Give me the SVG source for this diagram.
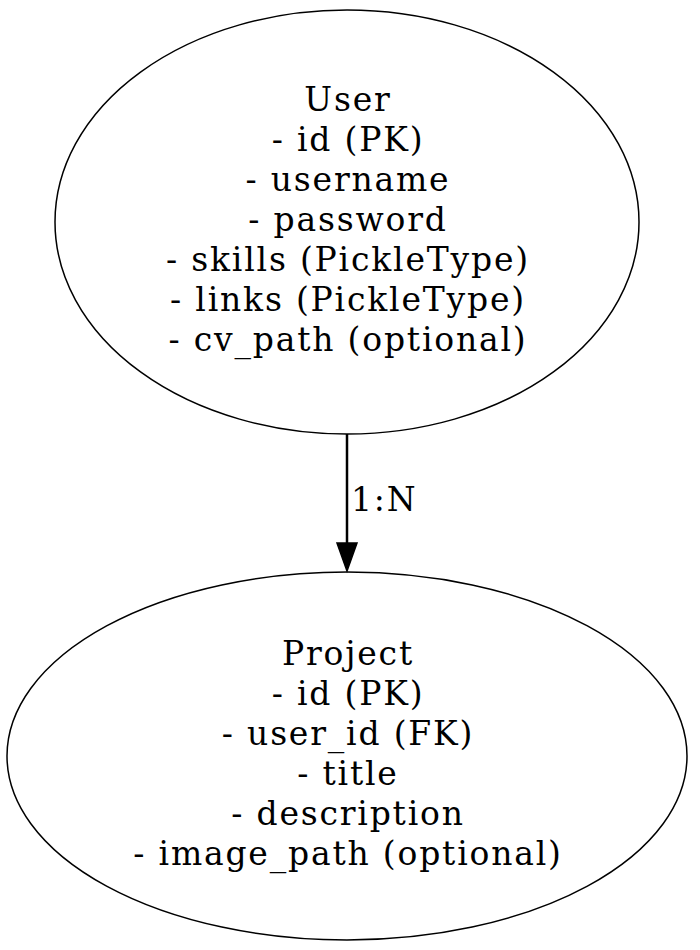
<svg xmlns="http://www.w3.org/2000/svg" width="700" height="950" viewBox="0 0 700 950">
<style>
.node ellipse{fill:none;stroke:#000;stroke-width:1.5}
text{font-family:"DejaVu Serif","Liberation Serif",serif;font-size:33px;letter-spacing:1.8px;fill:#000;text-anchor:middle}
.edge line{stroke:#000;stroke-width:2.5}
</style>
<rect width="700" height="950" fill="#fff"/>
<g id="User" class="node">
<ellipse cx="347" cy="222" rx="292" ry="212"/>
<text x="348" y="111">User</text>
<text x="348" y="151">- id (PK)</text>
<text x="348" y="191">- username</text>
<text x="348" y="231">- password</text>
<text x="348" y="271">- skills (PickleType)</text>
<text x="348" y="311">- links (PickleType)</text>
<text x="348" y="351">- cv_path (optional)</text>
</g>
<g id="Project" class="node">
<ellipse cx="347" cy="756" rx="340" ry="184"/>
<text x="348" y="665">Project</text>
<text x="348" y="705">- id (PK)</text>
<text x="348" y="745">- user_id (FK)</text>
<text x="348" y="785">- title</text>
<text x="348" y="825">- description</text>
<text x="348" y="865">- image_path (optional)</text>
</g>
<g id="edges" class="edge">
<line x1="347" y1="434" x2="347" y2="544"/>
<polygon points="337,543 357,543 347,571" fill="#000" stroke="#000" stroke-width="1.5"/>
<text x="351" y="511" style="text-anchor:start">1:N</text>
</g>
</svg>
